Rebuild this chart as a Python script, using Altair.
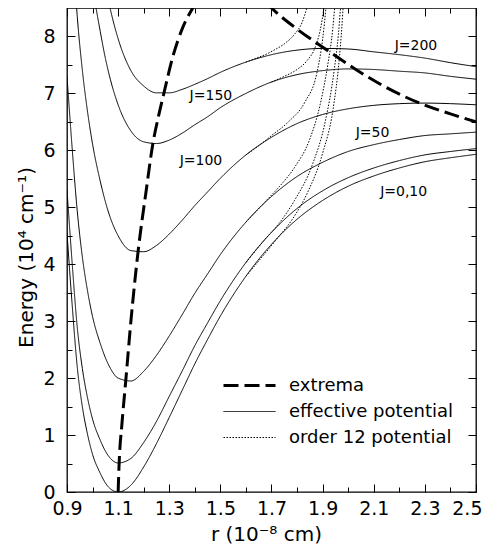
import altair as alt
import pandas as pd

FONT = "DejaVu Sans"

# ---- effective potential curves (r in 1e-8 cm, energy in 1e4 cm^-1) ----
X_A = [0.9, 0.92, 0.94, 0.96, 0.98, 1.0, 1.03, 1.05, 1.07, 1.1, 1.15, 1.2, 1.25, 1.3,
       1.35, 1.4, 1.45, 1.5, 1.6, 1.7, 1.8, 1.9, 2.0, 2.1, 2.2, 2.3, 2.4, 2.5]
J0 = [4.55, 3.30, 2.20, 1.50, 1.02, 0.66, 0.33, 0.16, 0.055, 0.0, 0.12, 0.44, 0.85, 1.31,
      1.78, 2.25, 2.68, 3.09, 3.79, 4.35, 4.79, 5.12, 5.37, 5.55, 5.69, 5.80, 5.87, 5.93]
J50 = [5.31, 4.03, 2.90, 2.17, 1.66, 1.28, 0.91, 0.72, 0.59, 0.51, 0.59, 0.87, 1.24, 1.68,
       2.12, 2.57, 2.97, 3.36, 4.03, 4.56, 4.98, 5.29, 5.52, 5.69, 5.82, 5.92, 5.98, 6.03]
J100 = [7.30, 6.05, 4.94, 4.13, 3.54, 3.08, 2.61, 2.36, 2.17, 2.00, 1.95, 2.12, 2.40, 2.74,
        3.11, 3.49, 3.83, 4.17, 4.74, 5.19, 5.54, 5.79, 5.98, 6.10, 6.19, 6.26, 6.29, 6.32]
X_150 = X_A[1:]
J150 = [9.73, 8.36, 7.41, 6.69, 6.11, 5.46, 5.10, 4.81, 4.50, 4.24, 4.22, 4.33, 4.53,
        4.77, 5.03, 5.27, 5.51, 5.92, 6.23, 6.47, 6.63, 6.73, 6.79, 6.82, 6.83, 6.82, 6.80]
X_185 = X_A[4:]
J185 = [9.59, 8.89, 8.09, 7.62, 7.24, 6.80, 6.34, 6.15, 6.12, 6.18, 6.30, 6.45, 6.59,
        6.75, 7.00, 7.20, 7.33, 7.40, 7.43, 7.42, 7.39, 7.36, 7.30, 7.25]
X_200 = X_A[6:]
J200 = [9.41, 8.90, 8.47, 7.96, 7.40, 7.13, 7.01, 7.01, 7.07, 7.16, 7.26, 7.37, 7.55,
        7.68, 7.76, 7.79, 7.78, 7.73, 7.68, 7.62, 7.54, 7.47]

# ---- order 12 potential (dotted) ----
D200_X = [1.6, 1.635, 1.68, 1.714, 1.75, 1.792, 1.82, 1.838, 1.855]
D200_Y = [7.55, 7.61, 7.69, 7.77, 7.87, 8.05, 8.25, 8.50, 8.80]
D185_X = [1.7, 1.75, 1.8, 1.84, 1.87, 1.89, 1.905, 1.915]
D185_Y = [7.20, 7.30, 7.42, 7.58, 7.80, 8.10, 8.50, 8.85]
D150_X = [1.6, 1.65, 1.7, 1.766, 1.831, 1.877, 1.90, 1.913, 1.92]
D150_Y = [5.92, 6.08, 6.26, 6.50, 6.85, 7.35, 7.95, 8.50, 8.85]
D100_X = [1.6, 1.68, 1.73, 1.79, 1.85, 1.89, 1.92, 1.94, 1.947, 1.955]
D100_Y = [4.74, 5.12, 5.36, 5.70, 6.20, 6.80, 7.50, 8.15, 8.50, 8.85]
D50_X = [1.6, 1.675, 1.73, 1.79, 1.86, 1.91, 1.945, 1.962, 1.97, 1.978]
D50_Y = [4.03, 4.44, 4.72, 5.12, 5.75, 6.50, 7.40, 8.05, 8.50, 8.85]
D0_X = [1.6, 1.72, 1.78, 1.84, 1.90, 1.94, 1.965, 1.975, 1.98, 1.988]
D0_Y = [3.79, 4.44, 4.78, 5.25, 5.95, 6.70, 7.60, 8.15, 8.50, 8.85]

# ---- locus of extrema (dashed) ----
EX_X = [1.1, 1.104, 1.115, 1.13, 1.15, 1.178, 1.21, 1.236, 1.258, 1.28, 1.313, 1.353,
        1.392, 1.55, 1.70, 1.80, 1.921, 2.03, 2.13, 2.29, 2.4, 2.5]
EX_Y = [0.0, 0.51, 1.2, 1.96, 3.0, 4.22, 5.3, 6.12, 6.6, 7.02, 7.63, 8.16,
        8.5, 9.3, 8.5, 8.13, 7.75, 7.42, 7.15, 6.81, 6.64, 6.5]

# ---- curve labels ----
LABEL_TEXT = ["J=200", "J=150", "J=100", "J=50", "J=0,10"]
LABEL_X = [2.265, 1.463, 1.424, 2.095, 2.217]
LABEL_Y = [7.84, 6.96, 5.82, 6.31, 5.26]

# ---- axis ticks ----
MAJ_X = [0.9, 1.1, 1.3, 1.5, 1.7, 1.9, 2.1, 2.3, 2.5]
MIN_X = [1.0, 1.2, 1.4, 1.6, 1.8, 2.0, 2.2, 2.4]
MAJ_Y = [0, 1, 2, 3, 4, 5, 6, 7, 8]
MIN_Y = [0.5, 1.5, 2.5, 3.5, 4.5, 5.5, 6.5, 7.5]

KINDS = ["extrema", "effective potential", "order 12 potential"]


def frame(xs, ys, series, kind):
    return pd.DataFrame({"r": xs, "E": ys, "series": series, "kind": kind})


solid = pd.concat([
    frame(X_A, J0, "J0", KINDS[1]),
    frame(X_A, J50, "J50", KINDS[1]),
    frame(X_A, J100, "J100", KINDS[1]),
    frame(X_150, J150, "J150", KINDS[1]),
    frame(X_185, J185, "J185", KINDS[1]),
    frame(X_200, J200, "J200", KINDS[1]),
])
dotted = pd.concat([
    frame(D200_X, D200_Y, "d200", KINDS[2]),
    frame(D185_X, D185_Y, "d185", KINDS[2]),
    frame(D150_X, D150_Y, "d150", KINDS[2]),
    frame(D100_X, D100_Y, "d100", KINDS[2]),
    frame(D50_X, D50_Y, "d50", KINDS[2]),
    frame(D0_X, D0_Y, "d0", KINDS[2]),
])
extrema = frame(EX_X, EX_Y, "ex", KINDS[0])
labels = pd.DataFrame({"r": LABEL_X, "E": LABEL_Y, "t": LABEL_TEXT})

X_SC = alt.Scale(domain=[0.9, 2.5], nice=False, zero=False)
Y_SC = alt.Scale(domain=[0, 8.5], nice=False, zero=False)

LEG = alt.Legend(orient="none", legendX=171, legendY=366, title=None,
                 symbolType="M-2.6,0H2.6", symbolSize=400, symbolStrokeColor="black",
                 labelFont=FONT, labelFontSize=18, labelColor="black", labelLimit=400,
                 labelOffset=28, rowPadding=6, padding=0)
DASH = alt.StrokeDash("kind:N", scale=alt.Scale(domain=KINDS, range=[[15, 6], [1, 0], [1.5, 1.5]]),
                      legend=LEG)
WIDTH = alt.StrokeWidth("kind:N", scale=alt.Scale(type="ordinal", domain=KINDS, range=[3, 1, 1]),
                        legend=LEG)


def tick_axis(orient, values, size):
    return alt.Axis(orient=orient, values=values, tickSize=size, offset=-size, labels=False,
                    domain=False, grid=False, title=None, ticks=True, tickColor="black",
                    tickWidth=1)


LAB = dict(ticks=False, tickSize=0, domain=False, grid=False, labelFont=FONT,
           labelFontSize=19, labelColor="black", labelOverlap=False)

x_lab = alt.Axis(orient="bottom", values=MAJ_X[:-1], format=".1f", labelPadding=7,
                 labelFlush=False,
                 title="r (10⁻⁸ cm)", titleFont=FONT, titleFontSize=20,
                 titleFontWeight="normal", titleColor="black", titleX=199, titleY=48,
                 titleBaseline="alphabetic", titleAlign="center", **LAB)
x_last = alt.Axis(orient="bottom", values=MAJ_X[-1:], format=".1f", labelPadding=7,
                  labelFlush=True, labelFlushOffset=6, title=None, **LAB)
y_lab = alt.Axis(orient="left", values=MAJ_Y, format="d", labelPadding=12, labelFlush=False,
                 title="Energy (10⁴ cm⁻¹)", titleFont=FONT, titleFontSize=20,
                 titleFontWeight="normal", titleColor="black", titleAngle=270,
                 titleX=-35, titleY=249, titleBaseline="alphabetic", titleAlign="center", **LAB)

l_solid = alt.Chart(solid).mark_line(color="black", clip=True, interpolate="monotone").encode(
    x=alt.X("r:Q", scale=X_SC, axis=x_lab),
    y=alt.Y("E:Q", scale=Y_SC, axis=y_lab),
    detail="series:N", strokeDash=DASH, strokeWidth=WIDTH)

l_dot = alt.Chart(dotted).mark_line(color="black", clip=True, interpolate="monotone").encode(
    x=alt.X("r:Q", scale=X_SC, axis=tick_axis("bottom", MAJ_X, 8)),
    y=alt.Y("E:Q", scale=Y_SC, axis=tick_axis("left", MAJ_Y, 8)),
    detail="series:N", strokeDash=DASH, strokeWidth=WIDTH)

l_ex = alt.Chart(extrema).mark_line(color="black", clip=True, interpolate="monotone").encode(
    x=alt.X("r:Q", scale=X_SC, axis=tick_axis("bottom", MIN_X, 5)),
    y=alt.Y("E:Q", scale=Y_SC, axis=tick_axis("left", MIN_Y, 5)),
    detail="series:N", strokeDash=DASH, strokeWidth=WIDTH)

l_txt = alt.Chart(labels).mark_text(font=FONT, fontSize=14, color="black").encode(
    x=alt.X("r:Q", scale=X_SC, axis=tick_axis("top", MAJ_X, 8)),
    y=alt.Y("E:Q", scale=Y_SC, axis=tick_axis("right", MAJ_Y, 8)),
    text="t:N")

l_pts = alt.Chart(labels).mark_point(opacity=0).encode(
    x=alt.X("r:Q", scale=X_SC, axis=tick_axis("top", MIN_X, 5)),
    y=alt.Y("E:Q", scale=Y_SC, axis=tick_axis("right", MIN_Y, 5)))

l_last = alt.Chart(labels).mark_point(opacity=0).encode(
    x=alt.X("r:Q", scale=X_SC, axis=x_last),
    y=alt.Y("E:Q", scale=Y_SC, axis=None))

chart = alt.layer(l_solid, l_dot, l_ex, l_txt, l_pts, l_last).resolve_axis(
    x="independent", y="independent"
).properties(
    width=409, height=484,
    autosize=alt.AutoSizeParams(type="none"),
    padding={"left": 59, "top": 0, "right": 7, "bottom": 52},
    background="white",
).configure_view(stroke="black", strokeWidth=1.3)

chart.save("out.html", embed_options={"renderer": "svg", "actions": False})
